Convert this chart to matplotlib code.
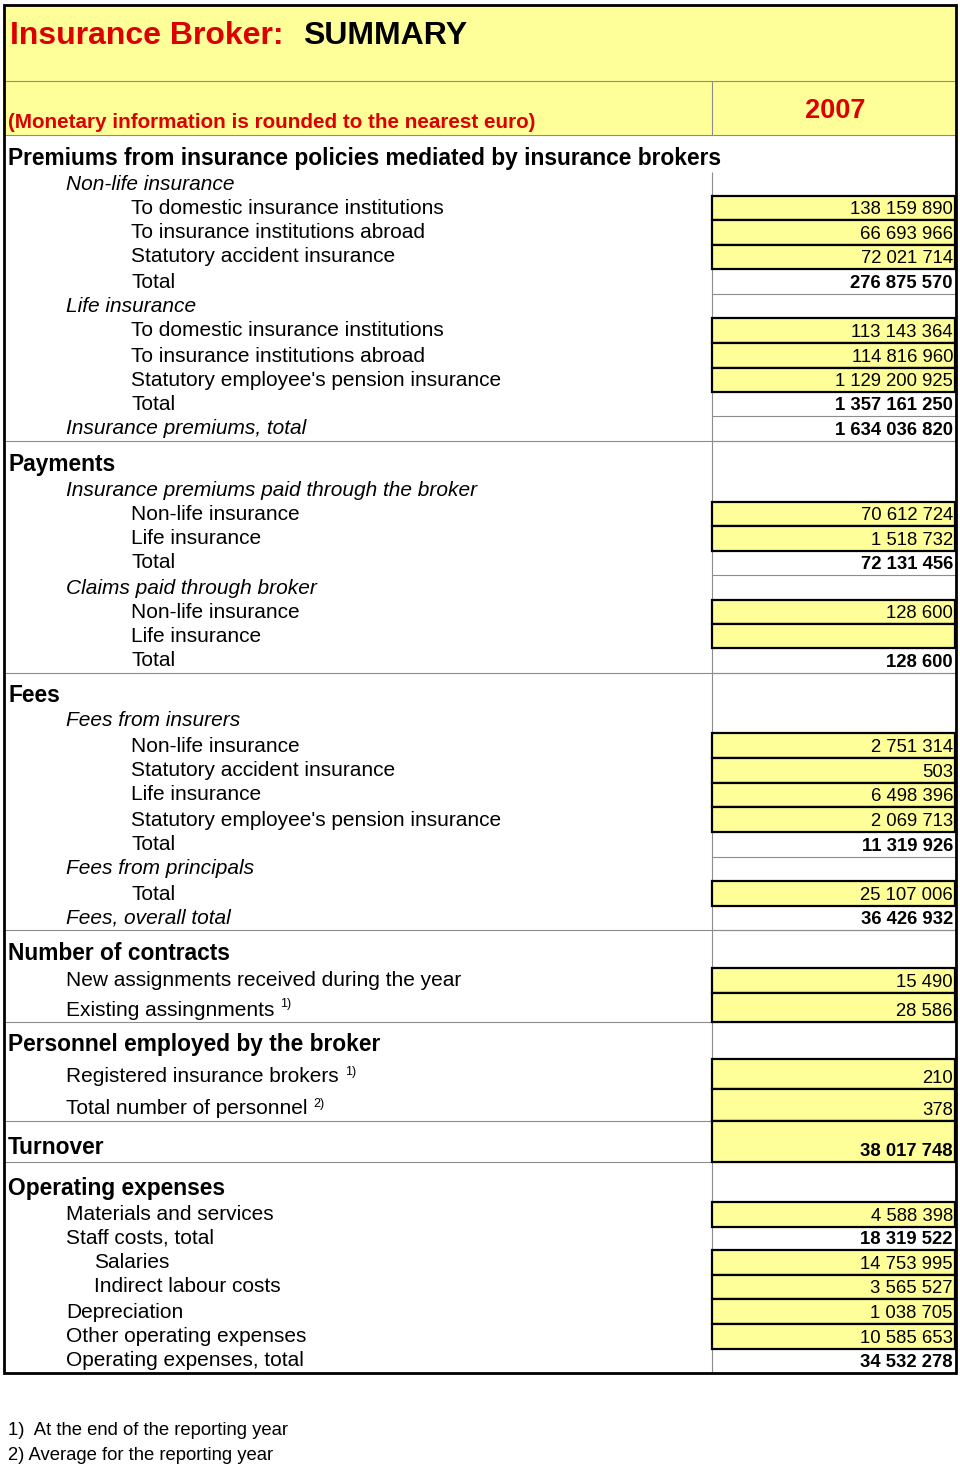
import matplotlib
matplotlib.use("Agg")
import matplotlib.pyplot as plt
from matplotlib.patches import Rectangle

plt.rcParams['font.family'] = ['Liberation Sans', 'DejaVu Sans']

# --- data -------------------------------------------------------------
title_red = "Insurance Broker:"
title_black = "SUMMARY"
subtitle = "(Monetary information is rounded to the nearest euro)"
year = "2007"

labels = [
    "Premiums from insurance policies mediated by insurance brokers",
    "Non-life insurance",
    "To domestic insurance institutions",
    "To insurance institutions abroad",
    "Statutory accident insurance",
    "Total",
    "Life insurance",
    "To domestic insurance institutions",
    "To insurance institutions abroad",
    "Statutory employee's pension insurance",
    "Total",
    "Insurance premiums, total",
    "Payments",
    "Insurance premiums paid through the broker",
    "Non-life insurance",
    "Life insurance",
    "Total",
    "Claims paid through broker",
    "Non-life insurance",
    "Life insurance",
    "Total",
    "Fees",
    "Fees from insurers",
    "Non-life insurance",
    "Statutory accident insurance",
    "Life insurance",
    "Statutory employee's pension insurance",
    "Total",
    "Fees from principals",
    "Total",
    "Fees, overall total",
    "Number of contracts",
    "New assignments received during the year",
    "Existing assingnments",
    "Personnel employed by the broker",
    "Registered insurance brokers",
    "Total number of personnel",
    "Turnover",
    "Operating expenses",
    "Materials and services",
    "Staff costs, total",
    "Salaries",
    "Indirect labour costs",
    "Depreciation",
    "Other operating expenses",
    "Operating expenses, total",
]

# h = section header (bold), i = italic sub header, n = normal
styles = ["h", "i", "n", "n", "n", "n", "i", "n", "n", "n", "n", "i",
          "h", "i", "n", "n", "n", "i", "n", "n", "n",
          "h", "i", "n", "n", "n", "n", "n", "i", "n", "i",
          "h", "n", "n", "h", "n", "n", "h",
          "h", "n", "n", "n", "n", "n", "n", "n"]

levels = [0, 1, 2, 2, 2, 2, 1, 2, 2, 2, 2, 1,
          0, 1, 2, 2, 2, 1, 2, 2, 2,
          0, 1, 2, 2, 2, 2, 2, 1, 2, 1,
          0, 1, 1, 0, 1, 1, 0,
          0, 1, 1, 3, 3, 1, 1, 1]

values = [None, None, 138159890, 66693966, 72021714, 276875570, None, 113143364, 114816960, 1129200925, 1357161250, 1634036820,
          None, None, 70612724, 1518732, 72131456, None, 128600, None, 128600,
          None, None, 2751314, 503, 6498396, 2069713, 11319926, None, 25107006, 36426932,
          None, 15490, 28586, None, 210, 378, 38017748,
          None, 4588398, 18319522, 14753995, 3565527, 1038705, 10585653, 34532278]

# yellow input cells
inputs = [0, 0, 1, 1, 1, 0, 0, 1, 1, 1, 0, 0,
          0, 0, 1, 1, 0, 0, 1, 1, 0,
          0, 0, 1, 1, 1, 1, 0, 0, 1, 0,
          0, 1, 1, 0, 1, 1, 1,
          0, 1, 0, 1, 1, 1, 1, 0]

bold_values = [0, 0, 0, 0, 0, 1, 0, 0, 0, 0, 1, 1,
               0, 0, 0, 0, 1, 0, 0, 0, 1,
               0, 0, 0, 0, 0, 0, 1, 0, 0, 1,
               0, 0, 0, 0, 0, 0, 1,
               0, 0, 1, 0, 0, 0, 0, 1]

footmarks = {33: "1)", 35: "1)", 36: "2)"}
footnotes = ["1)  At the end of the reporting year", "2) Average for the reporting year"]

# --- layout (pixel rows) ----------------------------------------------
row_edges = [135, 172, 196, 220, 245, 269, 294, 318, 343, 368, 392, 416, 441,
             478, 502, 526, 551, 575, 600, 624, 648, 673,
             710, 733, 758, 783, 807, 832, 857, 881, 906, 930,
             968, 993, 1022, 1059, 1089, 1121, 1162,
             1202, 1227, 1250, 1275, 1299, 1324, 1349, 1373]
indent_x = {0: 8, 1: 66, 2: 131, 3: 94}
section_lines = [81, 135, 441, 673, 930, 1022, 1121, 1162]

W, H = 960, 1467
LEFT, RIGHT, TOP, BOTTOM = 4, 956, 5, 1373
VCOL = 712
YELLOW = "#ffff99"
RED = "#dd0000"
GREY = "#8c8c8c"

fig = plt.figure(figsize=(W / 100, H / 100), dpi=100)
ax = fig.add_axes([0, 0, 1, 1])
ax.set_xlim(0, W)
ax.set_ylim(H, 0)
ax.axis("off")

# header background
ax.add_patch(Rectangle((LEFT, TOP), RIGHT - LEFT, 135 - TOP, facecolor=YELLOW, edgecolor="none", zorder=0))

# grid lines
for y in section_lines:
    ax.hlines(y, LEFT, RIGHT, colors=GREY, linewidth=0.8, zorder=1)
ax.vlines(VCOL, 81, 135, colors=GREY, linewidth=0.8, zorder=1)
ax.vlines(VCOL, 172, BOTTOM, colors=GREY, linewidth=0.8, zorder=1)

# title texts
ax.text(10, 44, title_red, color=RED, fontsize=23, fontweight="bold", va="baseline")
ax.text(303, 44, title_black, color="black", fontsize=23, fontweight="bold", va="baseline")
ax.text(8, 128, subtitle, color=RED, fontsize=14.85, fontweight="bold", va="baseline")
ax.text(835, 118, year, color=RED, fontsize=19.5, fontweight="bold", va="baseline", ha="center")

label_texts = {}
for i, lab in enumerate(labels):
    top, bot = row_edges[i], row_edges[i + 1]
    st = styles[i]
    if st == "h":
        t = ax.text(8, bot - 7.5, lab, fontsize=16.4, fontweight="bold", va="baseline", zorder=3)
    elif st == "i":
        t = ax.text(indent_x[levels[i]], bot - 6.5, lab, fontsize=15, style="italic", va="baseline", zorder=3)
    else:
        t = ax.text(indent_x[levels[i]], bot - 6.5, lab, fontsize=15, va="baseline", zorder=3)
    label_texts[i] = t

    if inputs[i]:
        ax.add_patch(Rectangle((VCOL, top), 955 - VCOL, bot - top, facecolor=YELLOW,
                               edgecolor="black", linewidth=1.6, zorder=2))
    elif values[i] is not None:
        ax.hlines(bot, VCOL, RIGHT, colors=GREY, linewidth=0.8, zorder=1)

    if values[i] is not None:
        txt = f"{values[i]:,}".replace(",", " ")
        ax.text(953, bot - 6, txt, fontsize=13.3, ha="right", va="baseline",
                fontweight="bold" if bold_values[i] else "normal", zorder=4)

# superscript footnote marks after labels
fig.canvas.draw()
rend = fig.canvas.get_renderer()
for i, mark in footmarks.items():
    bb = label_texts[i].get_window_extent(rend)
    bot = row_edges[i + 1]
    ax.text(bb.x1 + 6, bot - 6.5 - 8, mark, fontsize=9, va="baseline", zorder=3)

# outer border
ax.add_patch(Rectangle((LEFT, TOP), RIGHT - LEFT, BOTTOM - TOP, facecolor="none",
                       edgecolor="black", linewidth=2.0, zorder=5))

# footnotes
ax.text(8, 1435, footnotes[0], fontsize=13.3, va="baseline")
ax.text(8, 1460, footnotes[1], fontsize=13.3, va="baseline")

fig.savefig("out.png", dpi=100)
